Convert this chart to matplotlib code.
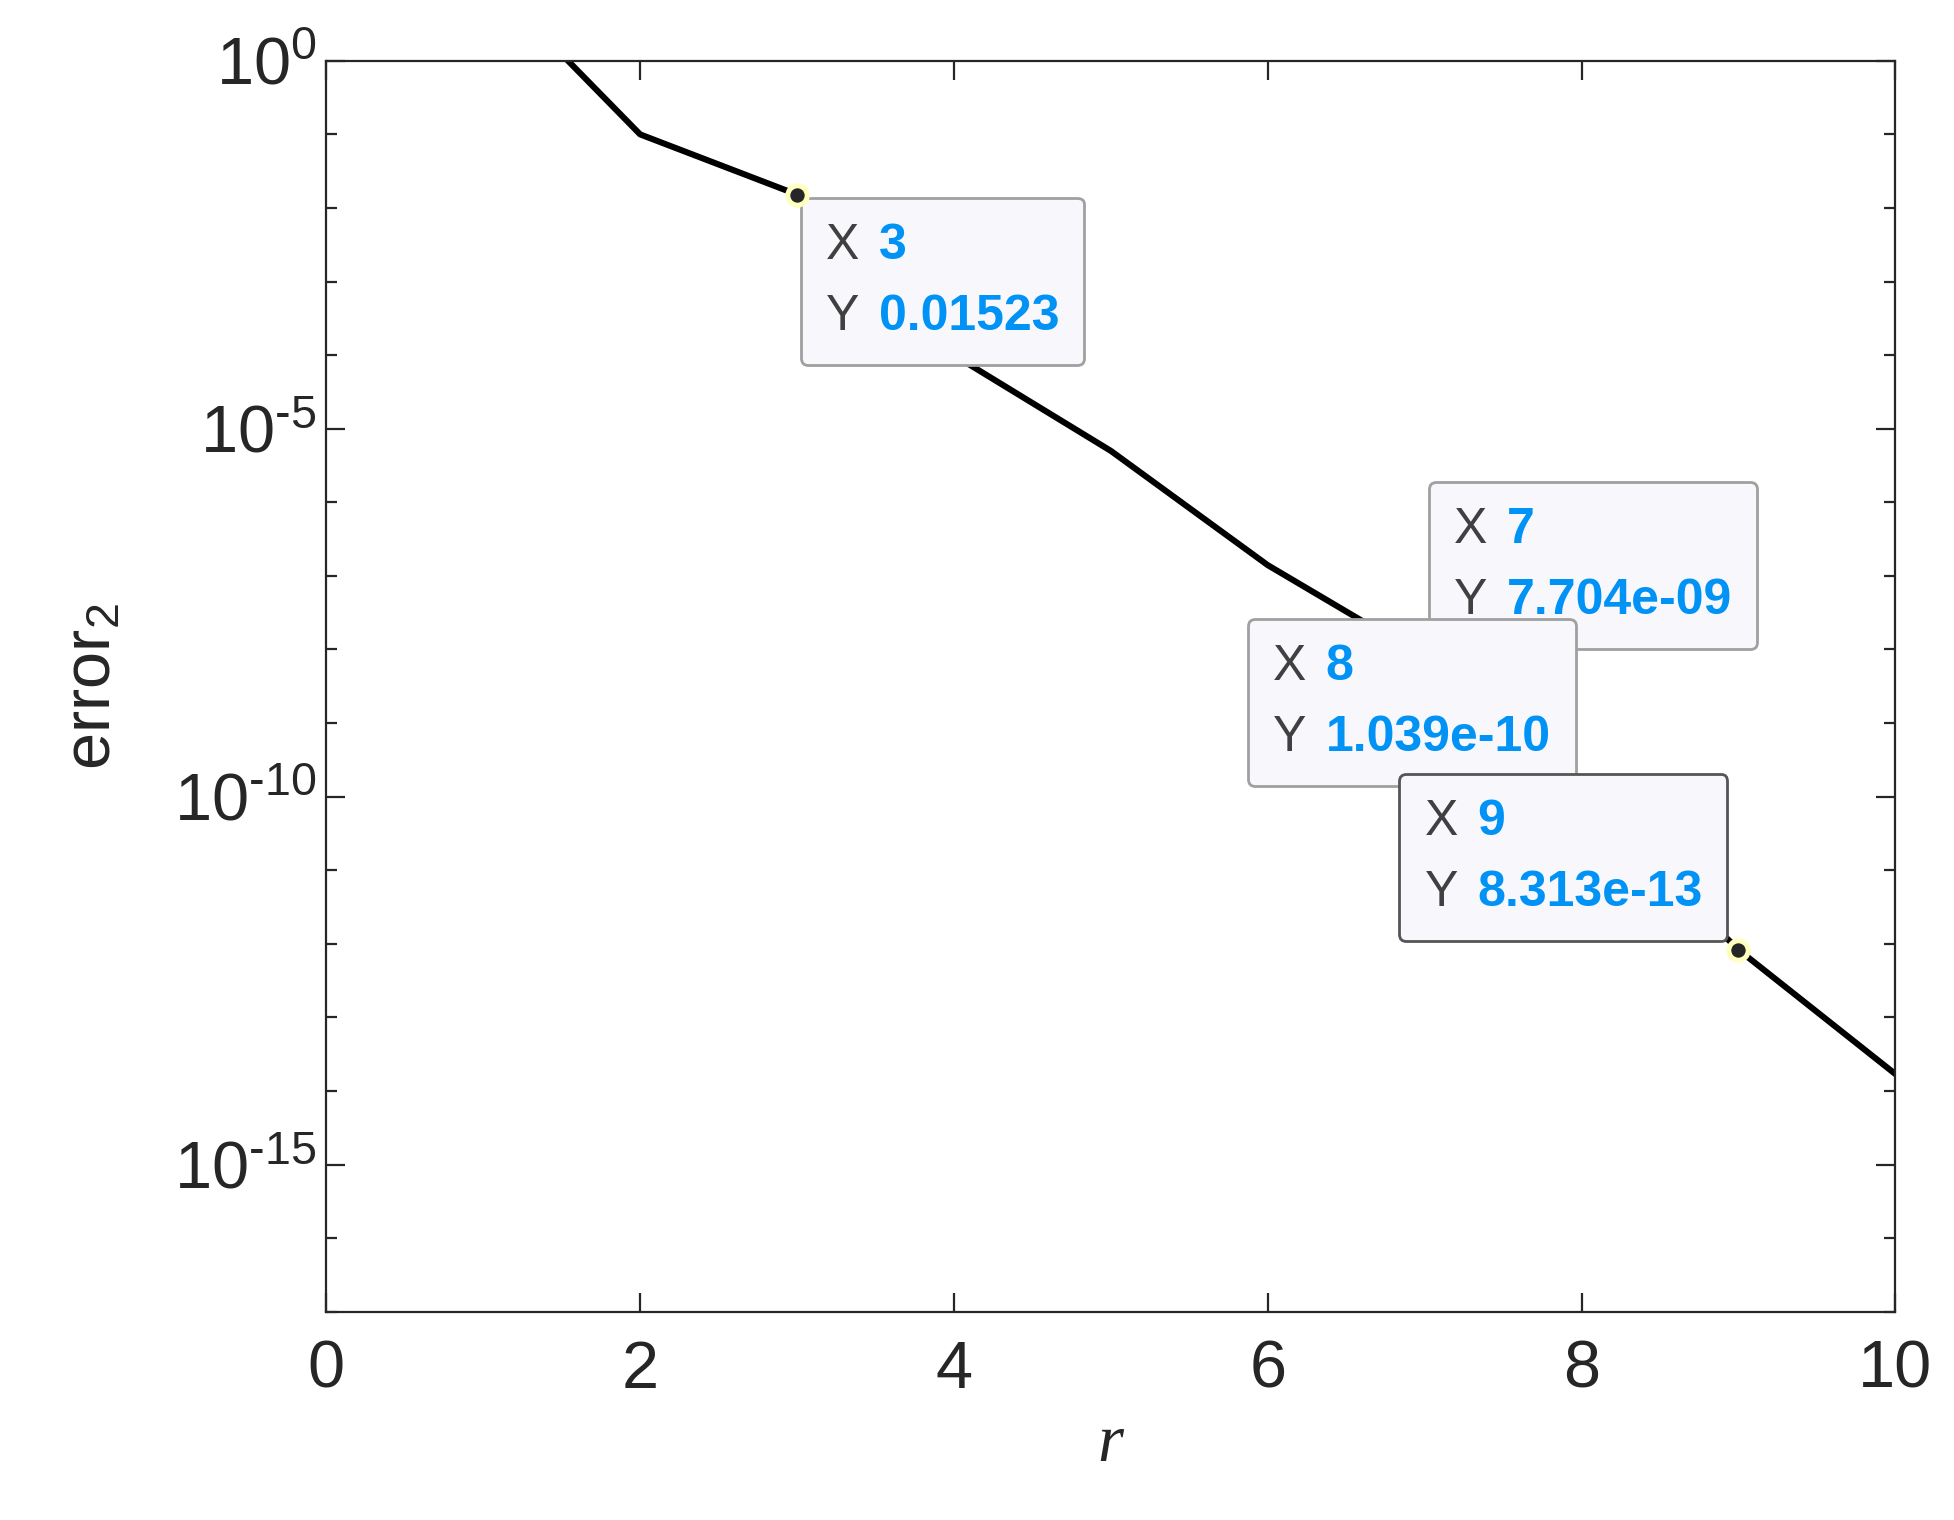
import numpy as np
import matplotlib
matplotlib.use("Agg")
import matplotlib.pyplot as plt
import matplotlib.ticker as ticker
from matplotlib.offsetbox import TextArea, HPacker, VPacker, AnnotationBbox

plt.rcParams['font.family'] = ['Liberation Sans', 'DejaVu Sans']
plt.rcParams['mathtext.fontset'] = 'custom'
plt.rcParams['mathtext.rm'] = 'Liberation Sans'
plt.rcParams['mathtext.it'] = 'Liberation Serif:italic'

# Data
r_vals = [1, 2, 3, 4, 5, 6, 7, 8, 9, 10]
err_vals = [15.0, 0.1, 0.01523, 1e-4, 5e-6, 1.4e-7, 7.704e-9, 1.039e-10, 8.313e-13, 1.7e-14]
tip_x = [3, 7, 8, 9]
tip_y = [0.01523, 7.704e-09, 1.039e-10, 8.313e-13]
tip_labels = ["0.01523", "7.704e-09", "1.039e-10", "8.313e-13"]
marked = [3, 9]

fig = plt.figure(figsize=(9.77, 7.6), dpi=200)
ax = fig.add_axes([0.167, 0.137, 0.803, 0.823])
ax.semilogy(r_vals, err_vals, color='black', lw=2.2, zorder=2)
ax.set_xlim(0, 10)
ax.set_ylim(1e-17, 1e0)

ax.xaxis.set_major_locator(ticker.MultipleLocator(2))
ax.yaxis.set_major_locator(ticker.FixedLocator([1e0, 1e-5, 1e-10, 1e-15]))
ax.yaxis.set_minor_locator(ticker.FixedLocator([10.0**k for k in range(-17, 0)]))
ax.yaxis.set_minor_formatter(ticker.NullFormatter())
ax.yaxis.set_major_formatter(ticker.FuncFormatter(
    lambda v, p: r'$\mathregular{10^{\text{%d}}}$' % round(np.log10(v))))
ax.tick_params(which='both', direction='in', top=True, right=True,
               labelsize=24, colors='#262626', width=0.8)
ax.tick_params(which='major', length=7)
ax.tick_params(which='minor', length=4)
ax.tick_params(axis='x', pad=10)
for s in ax.spines.values():
    s.set_color('#262626')
    s.set_linewidth(0.8)
ax.set_xlabel(r'$r$', fontsize=24, color='#262626')
ax.set_ylabel(r'error$_\mathregular{2}$', fontsize=24, color='#262626', labelpad=18)

# datatips: (alignment, offset in pixels)
placement = {3: ((0, 1), (29, -28)), 7: ((0, 0), (29, 34)),
             8: ((1, 0), (-31, 34)), 9: ((1, 0), (-36, 34))}
for i, (x, y, lab) in enumerate(zip(tip_x, tip_y, tip_labels)):
    align, off = placement[x]
    gray = dict(color='#404040', fontsize=18)
    blue = dict(color='#0092f5', fontsize=18, fontweight='bold')
    rows = VPacker(children=[
        HPacker(children=[TextArea("X", textprops=gray), TextArea(str(x), textprops=blue)], sep=7),
        HPacker(children=[TextArea("Y", textprops=gray), TextArea(lab, textprops=blue)], sep=7),
    ], sep=9, align='left')
    edge = '#555555' if x == 9 else '#a0a0a0'
    ab = AnnotationBbox(rows, (x, y), xybox=off, boxcoords='offset pixels',
                        box_alignment=align, pad=0.9, frameon=True,
                        bboxprops=dict(boxstyle='round,pad=0.9,rounding_size=0.25',
                                       facecolor='#f8f8fc', edgecolor=edge, lw=1.0),
                        zorder=3 + i)
    ax.add_artist(ab)

for x in marked:
    y = err_vals[r_vals.index(x)]
    ax.plot([x], [y], 'o', ms=7, mfc='#262626', mec='#ffffc0', mew=1.8, zorder=10)

fig.savefig('out.png', dpi=200)
